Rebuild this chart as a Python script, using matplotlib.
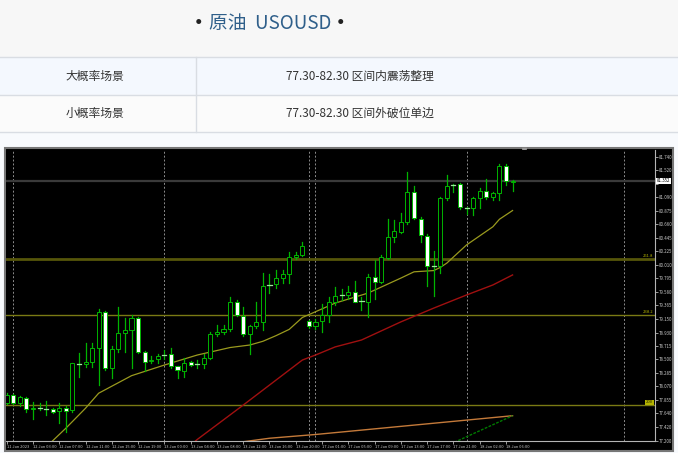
import numpy as np
import matplotlib.pyplot as plt
from matplotlib.patches import Rectangle

plt.rcParams['font.family'] = ['Noto Sans CJK SC', 'DejaVu Sans']

# header / table text
title_text = '原油  USOUSD'
row_labels = ['大概率场景', '小概率场景']
row_values = ['77.30-82.30 区间内震荡整理', '77.30-82.30 区间外破位单边']
info_text = 'USOUSD,H1  81.340 81.372 81.195 81.352'

# H1 candles, bar index 0..77
opens = [77.80, 77.93, 77.80, 77.88, 77.70, 77.72, 77.70, 77.71, 77.67, 77.73,
         77.69, 78.43, 78.42, 78.46, 78.69, 79.25, 78.37, 78.66, 78.92, 78.97,
         79.16, 78.62, 78.47, 78.50, 78.56, 78.58, 78.39, 78.32, 78.46, 78.42,
         78.42, 78.53, 78.91, 78.94, 78.98, 79.41, 79.19, 78.91, 79.03, 79.09,
         79.68, 79.70, 79.80, 79.87, 80.13, 80.17, 79.11, 79.03, 79.11, 79.21,
         79.41, 79.52, 79.53, 79.58, 79.42, 79.42, 79.82, 79.74, 80.12, 80.46,
         80.54, 80.69, 81.17, 80.75, 80.48, 79.98, 80.00, 81.08, 81.27, 81.30,
         80.93, 80.92, 81.08, 81.19, 81.10, 81.16, 81.59, 81.340]
highs = [77.97, 77.95, 77.92, 77.90, 77.82, 77.81, 77.83, 77.72, 77.81, 77.75,
         78.45, 78.60, 78.76, 78.76, 79.30, 79.27, 78.71, 79.33, 79.16, 79.21,
         79.18, 78.63, 78.55, 78.58, 78.65, 78.69, 78.40, 78.52, 78.48, 78.49,
         78.58, 78.94, 79.05, 79.05, 79.50, 79.45, 79.33, 79.05, 79.41, 79.88,
         79.87, 79.93, 79.93, 80.22, 80.22, 80.37, 79.13, 79.14, 79.39, 79.50,
         79.66, 79.62, 79.67, 79.76, 79.50, 79.86, 80.09, 80.17, 80.75, 80.73,
         80.84, 81.49, 81.27, 80.77, 80.50, 80.24, 81.10, 81.45, 81.31, 81.32,
         80.94, 81.10, 81.24, 81.38, 81.18, 81.62, 81.62, 81.372]
lows = [77.78, 77.78, 77.76, 77.66, 77.54, 77.69, 77.61, 77.64, 77.48, 77.34,
        77.66, 78.22, 78.38, 78.38, 78.09, 78.33, 78.20, 78.62, 78.62, 78.36,
        78.60, 78.32, 78.44, 78.45, 78.50, 78.37, 78.20, 78.22, 78.40, 78.36,
        78.36, 78.51, 78.88, 78.90, 78.95, 79.19, 78.88, 78.59, 79.00, 78.97,
        79.56, 79.64, 79.72, 79.72, 80.10, 80.15, 79.00, 78.98, 78.94, 79.09,
        79.37, 79.45, 79.46, 79.41, 79.29, 79.17, 79.46, 79.72, 80.10, 80.38,
        80.52, 80.66, 80.74, 80.38, 79.67, 79.51, 79.88, 81.05, 81.18, 80.91,
        80.82, 80.81, 80.92, 81.07, 81.05, 81.05, 81.29, 81.195]
closes = [77.93, 77.80, 77.90, 77.71, 77.73, 77.72, 77.70, 77.66, 77.73, 77.67,
          78.44, 78.43, 78.46, 78.69, 79.26, 78.37, 78.66, 78.92, 78.97, 79.16,
          78.62, 78.46, 78.49, 78.55, 78.57, 78.39, 78.33, 78.44, 78.41, 78.42,
          78.53, 78.91, 78.94, 78.98, 79.41, 79.21, 78.91, 79.03, 79.09, 79.67,
          79.69, 79.80, 79.87, 80.13, 80.17, 80.31, 79.03, 79.10, 79.21, 79.41,
          79.52, 79.53, 79.58, 79.42, 79.43, 79.82, 79.74, 80.13, 80.46, 80.55,
          80.70, 81.17, 80.76, 80.49, 79.99, 79.99, 81.08, 81.27, 81.28, 80.93,
          80.92, 81.08, 81.19, 81.09, 81.16, 81.59, 81.35, 81.352]

# moving averages (bar index, price)
ma_fast_idx = [6, 7, 9, 12, 14, 19, 24, 29, 34, 37, 39, 41, 43, 45, 50, 55, 60, 62, 65, 66, 67, 70, 74, 75, 77]
ma_fast_val = [77.08, 77.20, 77.40, 77.72, 77.96, 78.24, 78.41, 78.57, 78.69, 78.73, 78.79, 78.88, 78.98,
               79.17, 79.40, 79.56, 79.80, 79.90, 79.92, 79.97, 80.04, 80.33, 80.62, 80.74, 80.88]
ma_mid_idx = [28, 29, 36, 41, 45, 47, 50, 54, 60, 65, 70, 74, 77]
ma_mid_val = [77.13, 77.22, 77.77, 78.17, 78.49, 78.57, 78.70, 78.81, 79.10, 79.32, 79.53, 79.69, 79.85]
ma_slow_idx = [35, 40, 47, 49, 70, 77]
ma_slow_val = [77.17, 77.24, 77.30, 77.32, 77.53, 77.60]
ma_green_idx = [67, 77]
ma_green_val = [77.12, 77.60]

fib_levels = [80.10, 79.21, 77.77]
fib_names = ['261.8', '238.2', '200']
bid_price = 81.352

separators = [1, 24, 46, 47, 70, 94]
xtick_idx = [0, 4, 8, 12, 16, 20, 24, 28, 32, 36, 40, 44, 48, 52, 56, 60, 64, 68, 72, 76]
xtick_labels = ['11 Jan 2023', '12 Jan 03:00', '12 Jan 07:00', '12 Jan 11:00', '12 Jan 15:00',
                '12 Jan 19:00', '13 Jan 00:00', '13 Jan 04:00', '13 Jan 08:00', '13 Jan 12:00',
                '13 Jan 16:00', '13 Jan 20:00', '17 Jan 01:00', '17 Jan 05:00', '17 Jan 09:00',
                '17 Jan 13:00', '17 Jan 17:00', '17 Jan 21:00', '18 Jan 02:00', '18 Jan 06:00']
ytick_vals = [81.740, 81.520, 81.305, 81.090, 80.875, 80.660, 80.445, 80.225, 80.010, 79.795,
              79.580, 79.365, 79.150, 78.930, 78.715, 78.500, 78.285, 78.070, 77.855, 77.640,
              77.420, 77.200]

W, H = 678, 453
fig = plt.figure(figsize=(W / 100, H / 100), dpi=100)

# page background, header and table
bg = fig.add_axes([0, 0, 1, 1])
bg.set_xlim(0, W)
bg.set_ylim(H, 0)
bg.axis('off')
bg.add_patch(Rectangle((0, 0), W, H, color='#f8fafd'))
bg.add_patch(Rectangle((0, 0), W, 56.5, color='#f7f7f7'))
bg.add_patch(Rectangle((0, 56.5), W, 38, color='#f4f8fe'))
bg.add_patch(Rectangle((0, 94.5), W, 37, color='#fbfbfb'))
for yy in [56.5, 94.5, 131.5]:
    bg.plot([0, W], [yy, yy], color='#d9dde3', lw=1)
bg.plot([195.5, 195.5], [56.5, 131.5], color='#d9dde3', lw=1)

bg.text(199, 24, '•', ha='center', va='center', fontsize=17, color='#222222')
bg.text(341, 24, '•', ha='center', va='center', fontsize=17, color='#222222')
bg.text(270, 24, title_text, ha='center', va='center', fontsize=13.5, color='#2f5f8a')
for k, (lab, val) in enumerate(zip(row_labels, row_values)):
    yy = 76 + k * 37.5
    bg.text(94.5, yy, lab, ha='center', va='center', fontsize=8.5, color='#333333')
    bg.text(360, yy, val, ha='center', va='center', fontsize=8.5, color='#333333')

# chart window
bg.add_patch(Rectangle((4.5, 147.5), 668, 303.5, facecolor='black', edgecolor='#777777', lw=1.5))
bg.text(9, 153.5, info_text, ha='left', va='center', fontsize=3.2, color='#c8c8c8')
bg.plot([524], [149.5], marker='v', ms=3, color='#9a9a9a')

ax = fig.add_axes([6 / W, (H - 441) / H, 649 / W, 291 / H])
ax.set_facecolor('black')
ax.set_xlim(-0.107, 98.68)
ax.set_ylim(77.196, 81.847)

green = '#00b400'
for s in separators:
    ax.axvline(s, color='#8c8c8c', lw=0.7, ls=(0, (2, 2)), zorder=1)

ax.axhline(bid_price, color='#3a3a3a', lw=1.6, zorder=1)
fib_colors = ['#56560a', '#7a7a14', '#7a7a14']
fib_lw = [2.0, 1.0, 1.0]
for lvl, name, c, lw in zip(fib_levels, fib_names, fib_colors, fib_lw):
    ax.axhline(lvl, color=c, lw=lw, zorder=1)
ax.text(98.4, fib_levels[0] + 0.02, fib_names[0], ha='right', va='bottom', fontsize=3.0, color='#b4b400')
ax.text(98.4, fib_levels[1] + 0.02, fib_names[1], ha='right', va='bottom', fontsize=3.0, color='#b4b400')
ax.text(98.4, fib_levels[2] + 0.01, fib_names[2], ha='right', va='bottom', fontsize=3.0, color='#202000',
        bbox=dict(boxstyle='square,pad=0.15', fc='#b4b400', ec='none'))

ax.plot(ma_slow_idx, ma_slow_val, color='#c47a3a', lw=1, zorder=2)
ax.plot(ma_green_idx, ma_green_val, color='#007a00', lw=1, ls=(0, (2, 1)), zorder=2)
ax.plot(ma_mid_idx, ma_mid_val, color='#a01010', lw=1, zorder=2)
ax.plot(ma_fast_idx, ma_fast_val, color='#9a9a1e', lw=0.9, zorder=2)

bw = 0.62
for i, (o, h, l, c) in enumerate(zip(opens, highs, lows, closes)):
    ax.plot([i, i], [l, h], color=green, lw=0.9, zorder=3)
    lo, hi = min(o, c), max(o, c)
    if hi - lo < 0.012:
        ax.plot([i - bw / 2, i + bw / 2], [c, c], color='#9be89b', lw=0.9, zorder=4)
        continue
    face = 'black' if c > o else 'white'
    ax.add_patch(Rectangle((i - bw / 2, lo), bw, hi - lo, facecolor=face,
                           edgecolor=green, lw=0.7, zorder=4))

for side in ['left', 'top']:
    ax.spines[side].set_visible(False)
for side in ['right', 'bottom']:
    ax.spines[side].set_color('#b4b4b4')
    ax.spines[side].set_linewidth(0.8)

# the 81.305 label sits under the bid price box
ax.yaxis.tick_right()
ax.set_yticks(ytick_vals)
ax.set_yticklabels(['' if abs(v - 81.305) < 1e-6 else f'{v:.3f}' for v in ytick_vals])
ax.tick_params(axis='y', colors='#b4b4b4', labelcolor='#c8c8c8', labelsize=3.2, length=2, width=0.6, pad=1)
ax.set_xticks(xtick_idx)
ax.set_xticklabels(xtick_labels, ha='left')
ax.tick_params(axis='x', colors='#b4b4b4', labelcolor='#c8c8c8', labelsize=2.9, length=2, width=0.6, pad=1)

ax.text(1.003, (bid_price - 77.196) / (81.847 - 77.196), f'{bid_price:.3f}', transform=ax.transAxes,
        ha='left', va='center', fontsize=3.2, color='black', zorder=10, clip_on=False,
        bbox=dict(boxstyle='square,pad=0.15', fc='white', ec='none'))

fig.savefig('out.png', dpi=100, facecolor=fig.get_facecolor())
